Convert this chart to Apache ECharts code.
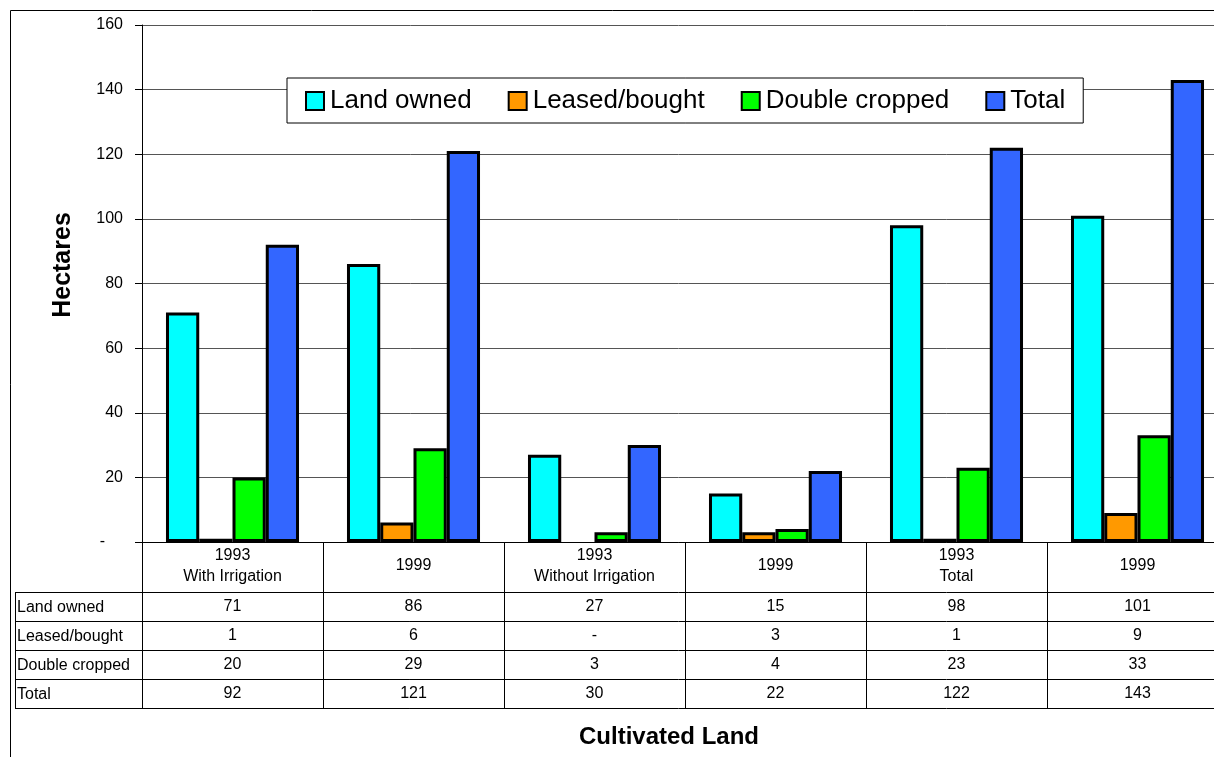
<!DOCTYPE html>
<html>
<head>
<meta charset="utf-8">
<script src="https://cdn.jsdelivr.net/npm/echarts@6/dist/echarts.min.js"></script>
<style>
  html, body { margin: 0; padding: 0; background: #fff; }
  #chart { width: 1214px; height: 757px; }
</style>
</head>
<body>
<div id="chart"></div>
<script>
// Cultivated land by irrigation type and year (hectares)
const categories = ['1993\nWith Irrigation', '1999', '1993\nWithout Irrigation', '1999', '1993\nTotal', '1999'];
const seriesNames = ['Land owned', 'Leased/bought', 'Double cropped', 'Total'];
const landOwned = [71, 86, 27, 15, 98, 101];
const leasedBought = [1, 6, 0, 3, 1, 9];
const doubleCropped = [20, 29, 3, 4, 23, 33];
const totalLand = [92, 121, 30, 22, 122, 143];
const seriesColors = ['#00FFFF', '#FF9900', '#00FF00', '#3366FF'];
const yMin = 0, yMax = 160, yStep = 20;

const seriesValues = [landOwned, leasedBought, doubleCropped, totalLand];

// layout: the plot runs past the right edge of the page
const FONT = '"Liberation Sans", Arial, sans-serif';
const gridLeft = 142, gridTop = 25, gridBottomY = 542, gridWidth = 1086;
const headerH = 50, rowH = 29;
const labelColLeft = 15;

// zero shows as a dash in the table and as no bar at all
const fmtVal = v => (v === 0 ? '-' : String(v));
const barVal = v => (v === 0 ? '-' : v);

const chart = echarts.init(document.getElementById('chart'), null, { renderer: 'canvas' });

const tableLine = { show: true, lineStyle: { color: '#000', width: 1 } };

// main category axis carries the header row of the data table
const xAxes = [{
  type: 'category',
  data: categories,
  position: 'bottom',
  axisLine: tableLine,
  axisTick: { show: true, interval: 0, length: headerH, lineStyle: { color: '#000', width: 1 } },
  axisLabel: {
    interval: 0, margin: 24, verticalAlign: 'middle', lineHeight: 21,
    fontSize: 16, fontFamily: FONT, color: '#000'
  },
  splitLine: { show: false }
}];

// one extra axis per table row, stacked below the header
seriesValues.forEach((vals, i) => {
  xAxes.push({
    type: 'category',
    data: vals.map(fmtVal),
    position: 'bottom',
    offset: headerH + i * rowH,
    axisLine: tableLine,
    axisTick: { show: true, interval: 0, length: rowH, lineStyle: { color: '#000', width: 1 } },
    axisLabel: {
      interval: 0, margin: rowH / 2, verticalAlign: 'middle',
      fontSize: 16, fontFamily: FONT, color: '#000'
    },
    splitLine: { show: false }
  });
});

// closing line under the last row
xAxes.push({
  type: 'category',
  data: categories,
  position: 'bottom',
  offset: headerH + seriesValues.length * rowH,
  axisLine: tableLine,
  axisTick: { show: false },
  axisLabel: { show: false },
  splitLine: { show: false }
});

// outer frame and row-label column to the left of the table
const graphics = [{
  type: 'rect',
  shape: { x: 10.5, y: 10.5, width: 1400, height: 1000 },
  style: { fill: null, stroke: '#000', lineWidth: 1 },
  silent: true, z: 0
}];
const tableTop = gridBottomY + headerH;
for (let i = 0; i <= seriesNames.length; i++) {
  const y = tableTop + i * rowH + 0.5;
  graphics.push({
    type: 'line',
    shape: { x1: labelColLeft, y1: y, x2: gridLeft, y2: y },
    style: { stroke: '#000', lineWidth: 1 }, silent: true
  });
}
graphics.push({
  type: 'line',
  shape: { x1: labelColLeft + 0.5, y1: tableTop, x2: labelColLeft + 0.5, y2: tableTop + seriesNames.length * rowH + 1 },
  style: { stroke: '#000', lineWidth: 1 }, silent: true
});
seriesNames.forEach((name, i) => {
  graphics.push({
    type: 'text',
    x: labelColLeft + 2,
    y: tableTop + i * rowH + rowH / 2 + 1,
    style: {
      text: name, fill: '#000', font: '16px ' + FONT,
      align: 'left', verticalAlign: 'middle', textAlign: 'left', textVerticalAlign: 'middle'
    },
    silent: true
  });
});
// axis titles
graphics.push({
  type: 'text',
  x: 63, y: 265,
  rotation: Math.PI / 2,
  style: {
    text: 'Hectares', fill: '#000', font: 'bold 25px ' + FONT,
    align: 'center', verticalAlign: 'middle', textAlign: 'center', textVerticalAlign: 'middle'
  },
  silent: true
});
graphics.push({
  type: 'text',
  x: 669, y: 737,
  style: {
    text: 'Cultivated Land', fill: '#000', font: 'bold 24px ' + FONT,
    align: 'center', verticalAlign: 'middle', textAlign: 'center', textVerticalAlign: 'middle'
  },
  silent: true
});

const option = {
  backgroundColor: '#fff',
  animation: false,
  textStyle: { fontFamily: FONT },
  grid: {
    left: gridLeft, top: gridTop, width: gridWidth, bottom: 757 - gridBottomY,
    containLabel: false, outerBoundsMode: 'none'
  },
  legend: {
    left: 287, top: 78,
    padding: [10, 18, 9, 18],
    itemGap: 36,
    itemWidth: 18, itemHeight: 18,
    icon: 'rect',
    backgroundColor: '#fff',
    borderColor: '#000', borderWidth: 1,
    textStyle: { fontSize: 26, fontFamily: FONT, color: '#000', padding: [0, 0, 0, 1] },
    data: seriesNames
  },
  xAxis: xAxes,
  yAxis: {
    type: 'value',
    min: yMin, max: yMax, interval: yStep,
    axisLine: { show: true, lineStyle: { color: '#000', width: 1 } },
    axisTick: { show: true, length: 7, lineStyle: { color: '#000' } },
    axisLabel: {
      margin: 19, fontSize: 16, fontFamily: FONT, color: '#000',
      formatter: v => (v === 0 ? '{z|-}' : String(v)),
      rich: { z: { fontSize: 16, fontFamily: FONT, color: '#000', padding: [0, 18, 0, 0] } }
    },
    splitLine: { show: true, lineStyle: { color: '#555', width: 1 } }
  },
  series: seriesNames.map((name, i) => ({
    name,
    type: 'bar',
    xAxisIndex: 0,
    yAxisIndex: 0,
    data: seriesValues[i].map(barVal),
    barGap: '0%',
    barCategoryGap: '26.5%',
    itemStyle: { color: seriesColors[i], borderColor: '#000', borderWidth: 3 }
  })),
  graphic: graphics
};

chart.setOption(option);
</script>
</body>
</html>
